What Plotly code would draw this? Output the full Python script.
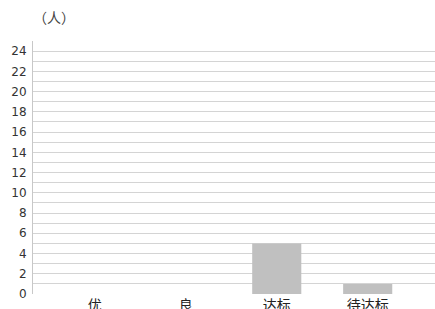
import plotly.graph_objects as go

categories = ["优", "良", "达标", "待达标"]
values = [0, 0, 5, 1]
y_ticks = list(range(0, 25, 2))

fig = go.Figure()
fig.add_trace(go.Bar(
    x=list(range(len(categories))), y=values,
    marker=dict(color="#c0c0c0", line=dict(width=0)),
    width=0.54,
))

fig.update_layout(
    width=435, height=309,
    margin=dict(l=33, r=0, t=41, b=15, autoexpand=False),
    paper_bgcolor="white", plot_bgcolor="white",
    showlegend=False,
    xaxis=dict(
        range=[-0.68, 3.74],
        tickmode="array",
        tickvals=list(range(len(categories))),
        ticktext=categories,
        showgrid=False, zeroline=False,
        showline=False, ticks="",
        automargin=False,
        ticklabelstandoff=1,
        tickfont=dict(family="Noto Sans CJK SC", size=14, color="#222222"),
    ),
    yaxis=dict(
        range=[0, 25],
        tickmode="array",
        tickvals=y_ticks,
        ticktext=[str(v) for v in y_ticks],
        showgrid=True, gridcolor="#d4d4d4", gridwidth=1,
        minor=dict(dtick=1, showgrid=True, gridcolor="#d4d4d4", gridwidth=1),
        zeroline=False,
        showline=True, linecolor="#c8c8c8", linewidth=1,
        ticks="", ticklabelstandoff=3,
        automargin=False,
        tickfont=dict(family="DejaVu Sans", size=12, color="#333333"),
    ),
    annotations=[dict(
        text="（人）", x=0, y=1, xref="paper", yref="paper",
        xanchor="left", yanchor="bottom", yshift=12, xshift=-2,
        showarrow=False,
        font=dict(family="Noto Sans CJK SC", size=14, color="#444444"),
    )],
)
fig.write_html(
    "out.html",
    config={"displayModeBar": False},
    post_script="document.body.style.margin='0';document.body.style.overflow='hidden';",
)
